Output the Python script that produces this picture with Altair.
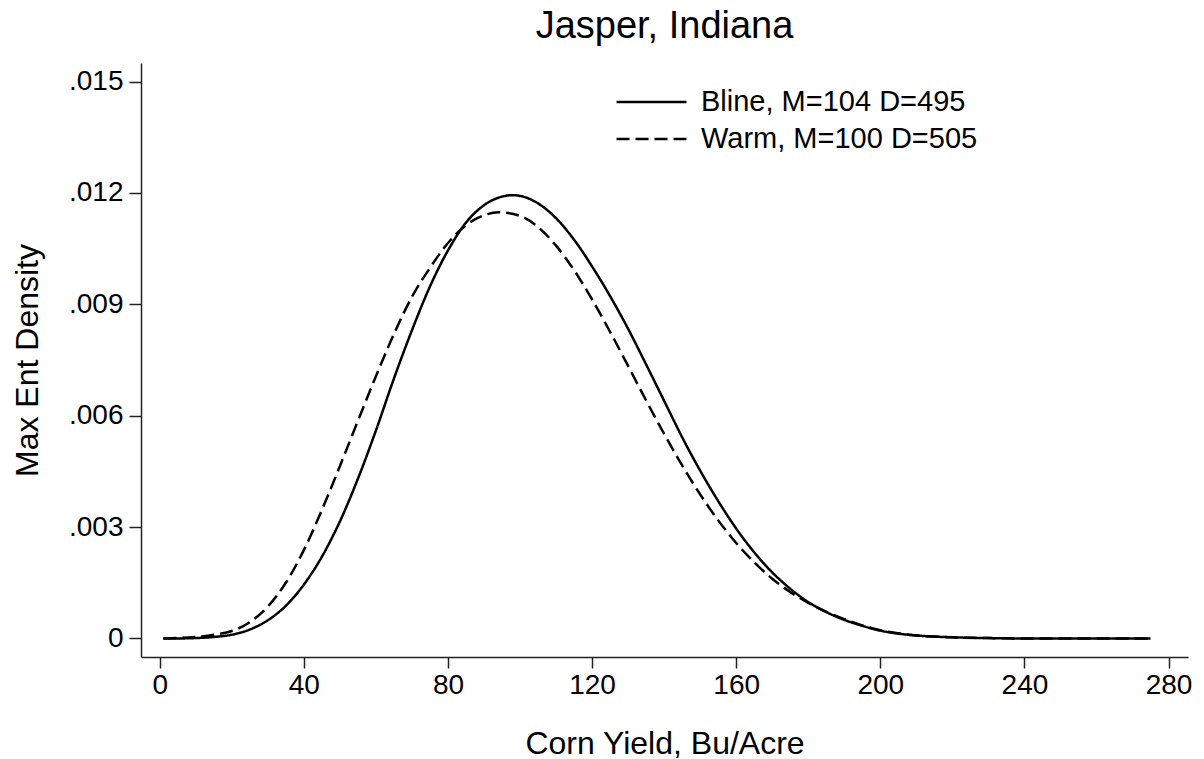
import altair as alt
import pandas as pd

# ---- data ----
bline_x = [1, 5, 10, 15, 20, 25, 30, 35, 40, 45, 50, 55, 60, 65, 70, 75, 80, 85, 90, 95, 98,
           100, 105, 110, 115, 120, 125, 130, 135, 140, 145, 150, 155, 160, 165, 170, 175,
           180, 185, 190, 195, 200, 205, 210, 215, 220, 230, 240, 250, 260, 275]
bline_y = [0, 0, 0.00001, 0.00004, 0.0001, 0.00024, 0.00049, 0.00088, 0.00145, 0.0022,
           0.00315, 0.0043, 0.0056, 0.0070, 0.0083, 0.00948, 0.01045, 0.0112, 0.01167, 0.0119,
           0.01194, 0.01192, 0.01172, 0.01132, 0.01074, 0.01002, 0.00922, 0.00834, 0.00738,
           0.0064, 0.00542, 0.00452, 0.0037, 0.00296, 0.00232, 0.00178, 0.00134, 0.00098,
           0.00071, 0.0005, 0.00034, 0.00021, 0.00013, 0.00008, 0.00005, 0.00003, 0.00001,
           0, 0, 0, 0]

warm_x = [1, 5, 10, 15, 20, 25, 30, 35, 40, 45, 50, 55, 60, 65, 70, 75, 80, 85, 90, 94,
          100, 105, 110, 115, 120, 125, 130, 135, 140, 145, 150, 155, 160, 165, 170, 175,
          180, 185, 190, 195, 200, 205, 210, 215, 220, 230, 240, 250, 260, 275]
warm_y = [0, 0.00001, 0.00004, 0.0001, 0.0002, 0.00044, 0.00086, 0.0015, 0.00238, 0.00346,
          0.00464, 0.00586, 0.00706, 0.0082, 0.0092, 0.00998, 0.01065, 0.01113, 0.0114, 0.01148,
          0.01138, 0.01108, 0.01058, 0.00992, 0.00913, 0.00826, 0.00734, 0.00641, 0.00551,
          0.00466, 0.00388, 0.00318, 0.00257, 0.00205, 0.00161, 0.00125, 0.00096, 0.00072,
          0.00052, 0.00035, 0.00022, 0.00014, 0.00008, 0.00005, 0.00003, 0.00001,
          0, 0, 0, 0]

series_names = ["Bline, M=104 D=495", "Warm, M=100 D=505"]
x_ticks = [0, 40, 80, 120, 160, 200, 240, 280]
y_ticks = [0, 0.003, 0.006, 0.009, 0.012, 0.015]

df = pd.concat([
    pd.DataFrame({"yield": bline_x, "density": bline_y, "series": series_names[0]}),
    pd.DataFrame({"yield": warm_x, "density": warm_y, "series": series_names[1]}),
])

FONT = "Liberation Sans"

chart = alt.Chart(df).mark_line(strokeWidth=2.5, color="black", interpolate="monotone").encode(
    x=alt.X("yield:Q",
            scale=alt.Scale(domain=[-5.2, 285.4], nice=False, zero=False),
            axis=alt.Axis(values=x_ticks, title="Corn Yield, Bu/Acre", grid=False,
                          tickSize=11, labelPadding=3, labelFontSize=28,
                          titleFontSize=32, titleFontWeight="normal",
                          titleBaseline="alphabetic", titleY=96)),
    y=alt.Y("density:Q",
            scale=alt.Scale(domain=[-0.0005, 0.0155], nice=False, zero=False),
            axis=alt.Axis(values=y_ticks, title="Max Ent Density", grid=False,
                          tickSize=12, labelPadding=6, labelFontSize=28,
                          labelExpr="datum.value == 0 ? '0' : substring(format(datum.value, '.3f'), 1)",
                          titleFontSize=32, titleFontWeight="normal",
                          titleBaseline="alphabetic", titleX=-104)),
    strokeDash=alt.StrokeDash("series:N",
                              scale=alt.Scale(domain=series_names, range=[[1, 0], [13, 6]]),
                              legend=alt.Legend(title=None, orient="none", legendX=474, legendY=24,
                                                symbolType="stroke", symbolSize=4900,
                                                symbolStrokeWidth=2.5, symbolStrokeColor="black",
                                                labelFontSize=29, labelOffset=13, labelLimit=0,
                                                clipHeight=30, rowPadding=7, labelColor="black")),
).properties(
    width=1047,
    height=594,
    title=alt.TitleParams("Jasper, Indiana", fontSize=38, fontWeight="normal",
                          anchor="middle", baseline="alphabetic", offset=25, dy=38,
                          color="black"),
    autosize=alt.AutoSizeParams(type="none"),
    padding={"left": 141, "top": 63, "right": 16, "bottom": 102},
).configure(font=FONT).configure_view(stroke=None).configure_axis(
    domainColor="#222", tickColor="#222", domainWidth=1.5, tickWidth=1.5,
    labelColor="black", titleColor="black", labelFont=FONT, titleFont=FONT
).configure_legend(labelFont=FONT)

chart.save("out.html", embed_options={"renderer": "svg", "actions": False})
